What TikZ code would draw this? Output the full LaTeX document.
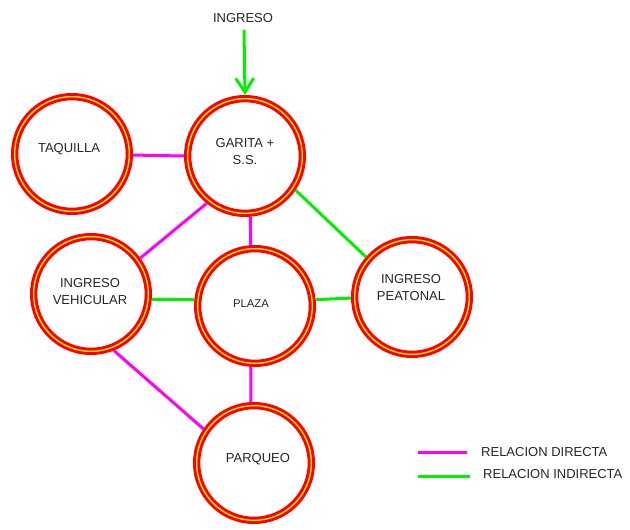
\documentclass[tikz,border=0pt]{standalone}
\usepackage{fontspec}
\setmainfont{Liberation Sans}
\usetikzlibrary{arrows.meta}
\definecolor{ringred}{RGB}{255,0,0}
\definecolor{ringyel}{RGB}{255,255,0}
\definecolor{mag}{RGB}{255,0,255}
\definecolor{grn}{RGB}{0,240,0}
\tikzset{
  ring/.style={circle, draw=ringred, double=ringyel, double distance=1.3pt, line width=3pt,
    fill=white, minimum size=114.7pt, inner sep=0pt, outer sep=3.65pt},
  txt/.style={font=\fontsize{13}{17}\selectfont, align=center, inner sep=0pt, text=black!85},
  dirline/.style={draw=mag, line width=3pt},
  indline/.style={draw=grn, line width=3pt},
}
\begin{document}
\begin{tikzpicture}[x=1pt,y=-1pt]
\useasboundingbox[fill=white] (0,0) rectangle (630,530);
% circles
\node[ring] (taq) at (72,154) {};
\node[ring] (gar) at (245,156) {};
\node[ring] (veh) at (91,294) {};
\node[ring] (pla) at (255,306) {};
\node[ring] (pea) at (412,297) {};
\node[ring] (par) at (254,463) {};
% labels
\node[txt] (taqt) at (69,149) {TAQUILLA};
\node[txt] (gart) at (245,152) {GARITA +\\S.S.};
\node[txt] (veht) at (90,292) {INGRESO\\VEHICULAR};
\node[txt, font=\fontsize{11.3}{14}\selectfont] (plat) at (251,304) {PLAZA};
\node[txt] (peat) at (411,288) {INGRESO\\PEATONAL};
\node[txt] (part) at (258,459) {PARQUEO};
\node[txt] (ing) at (243,18) {INGRESO};
% arrow
\coordinate (arrst) at (244,30);
\draw[indline, -{Straight Barb[length=14pt,width=18pt,line width=3pt]}] (arrst) -- (gar.north);
% connectors
\draw[dirline] (taq.-1.9) -- (gar.180);
\draw[dirline] (gar.231.6) -- (veh.36.9);
\draw[dirline] (gar.-85.3) -- (pla.94.7);
\draw[indline] (gar.-34.5) -- (pea.139);
\draw[indline] (veh.-5.6) -- (pla.174.4);
\draw[indline] (pla.6.6) -- (pea.181.9);
\draw[dirline] (pla.-94.7) -- (par.93.8);
\draw[dirline] (veh.-68.6) -- (par.146.9);
% legend
\coordinate (l1a) at (418,452);
\coordinate (l1b) at (467,452);
\coordinate (l2a) at (418,476);
\coordinate (l2b) at (470,476);
\draw[dirline] (l1a) -- (l1b);
\draw[indline] (l2a) -- (l2b);
\node[txt, anchor=west] (leg1) at (481,452) {RELACION DIRECTA};
\node[txt, anchor=west] (leg2) at (483,474) {RELACION INDIRECTA};
\end{tikzpicture}
\end{document}
